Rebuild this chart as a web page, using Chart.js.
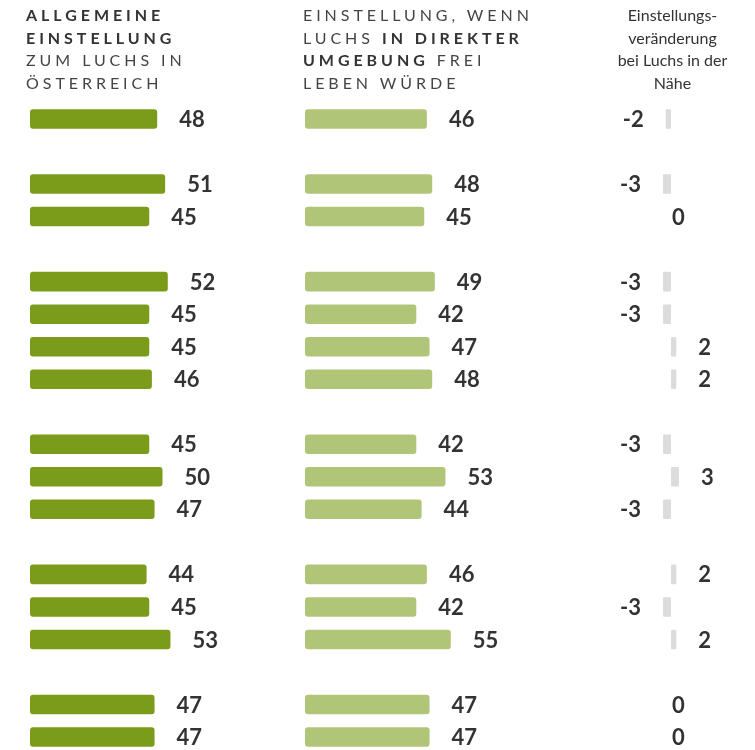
<!DOCTYPE html>
<html lang="de">
<head>
<meta charset="utf-8">
<script src="https://cdn.jsdelivr.net/npm/chart.js@4/dist/chart.umd.min.js"></script>
<style>
  body { margin: 0; background: #fff; font-family: Lato, sans-serif; }
  #wrap { position: relative; width: 755px; height: 750px; overflow: hidden; }
  canvas { position: absolute; left: 0; top: 0; }
  .head { position: absolute; top: 4px; font-size: 16px; line-height: 22.7px; color: #444; white-space: nowrap; }
  .caps { letter-spacing: 3.95px; }
  .caps b { font-weight: 700; color: #333; }
  #h1 { left: 26px; width: 270px; }
  #h2 { left: 303px; width: 270px; }
  #h3 { left: 600px; width: 145px; text-align: center; color: #333; }
</style>
</head>
<body>
<div id="wrap">
  <canvas id="chart" width="755" height="750"></canvas>
  <div class="head caps" id="h1"><b>ALLGEMEINE<br>EINSTELLUNG</b><br>ZUM LUCHS IN<br>ÖSTERREICH</div>
  <div class="head caps" id="h2">EINSTELLUNG, WENN<br>LUCHS <b>IN DIREKTER<br>UMGEBUNG</b> FREI<br>LEBEN WÜRDE</div>
  <div class="head" id="h3">Einstellungs-<br>veränderung<br>bei Luchs in der<br>Nähe</div>
</div>
<script>
// Zeilen (leere Einträge = Abstand zwischen Gruppen)
const rows = ['1', '', '2', '3', '', '4', '5', '6', '7', '', '8', '9', '10', '', '11', '12', '13', '', '14', '15'];
const allgemein = [48, null, 51, 45, null, 52, 45, 45, 46, null, 45, 50, 47, null, 44, 45, 53, null, 47, 47];
const direkt = [46, null, 48, 45, null, 49, 42, 47, 48, null, 42, 53, 44, null, 46, 42, 55, null, 47, 47];
const veraenderung = [-2, null, -3, 0, null, -3, -3, 2, 2, null, -3, 3, -3, null, 2, -3, 2, null, 0, 0];

// Pixel pro Einheit und Nullpunkt jeder Spalte
const PX = 2.65;
const WIDTH = 755;
function axis(zeroPx) {
    return { type: 'linear', display: false, min: -zeroPx / PX, max: (WIDTH - zeroPx) / PX };
}

const valueLabels = {
    id: 'valueLabels',
    afterDatasetsDraw(chart) {
        const ctx = chart.ctx;
        ctx.save();
        ctx.font = 'bold 22px Lato';
        ctx.fillStyle = '#333';
        ctx.textBaseline = 'middle';
        chart.data.datasets.forEach((ds, i) => {
            chart.getDatasetMeta(i).data.forEach((bar, j) => {
                const v = ds.data[j];
                if (v === null) return;
                let x = bar.x + 22;
                ctx.textAlign = 'left';
                if (v < 0) {
                    x = bar.x - 22;
                    ctx.textAlign = 'right';
                } else if (v === 0) {
                    x = bar.x + 1;
                }
                ctx.fillText(String(v), x, bar.y + 1);
            });
        });
        ctx.restore();
    }
};

function draw() {
    const ctx = document.getElementById('chart').getContext('2d');
    const common = { grouped: false, clip: false, borderRadius: 3, borderSkipped: false, categoryPercentage: 1, barPercentage: 0.6 };
    new Chart(ctx, {
        type: 'bar',
        data: {
            labels: rows,
            datasets: [
                Object.assign({ label: 'Allgemein', data: allgemein, backgroundColor: '#7b9c1b', xAxisID: 'xA' }, common),
                Object.assign({ label: 'Direkt', data: direkt, backgroundColor: '#b1c579', xAxisID: 'xB' }, common),
                Object.assign({ label: 'Veränderung', data: veraenderung, backgroundColor: '#dcdcdc', xAxisID: 'xC' }, common, { borderRadius: 1 })
            ]
        },
        options: {
            indexAxis: 'y',
            responsive: false,
            animation: false,
            layout: { padding: { top: 119, bottom: 13, left: 0, right: 0 } },
            plugins: {
                legend: { display: false },
                tooltip: { enabled: false }
            },
            scales: {
                y: { type: 'category', display: false, offset: false },
                xA: axis(30),
                xB: axis(305),
                xC: axis(671)
            }
        },
        plugins: [valueLabels]
    });
}

document.fonts.load('bold 22px Lato').then(draw, draw);
</script>
</body>
</html>
